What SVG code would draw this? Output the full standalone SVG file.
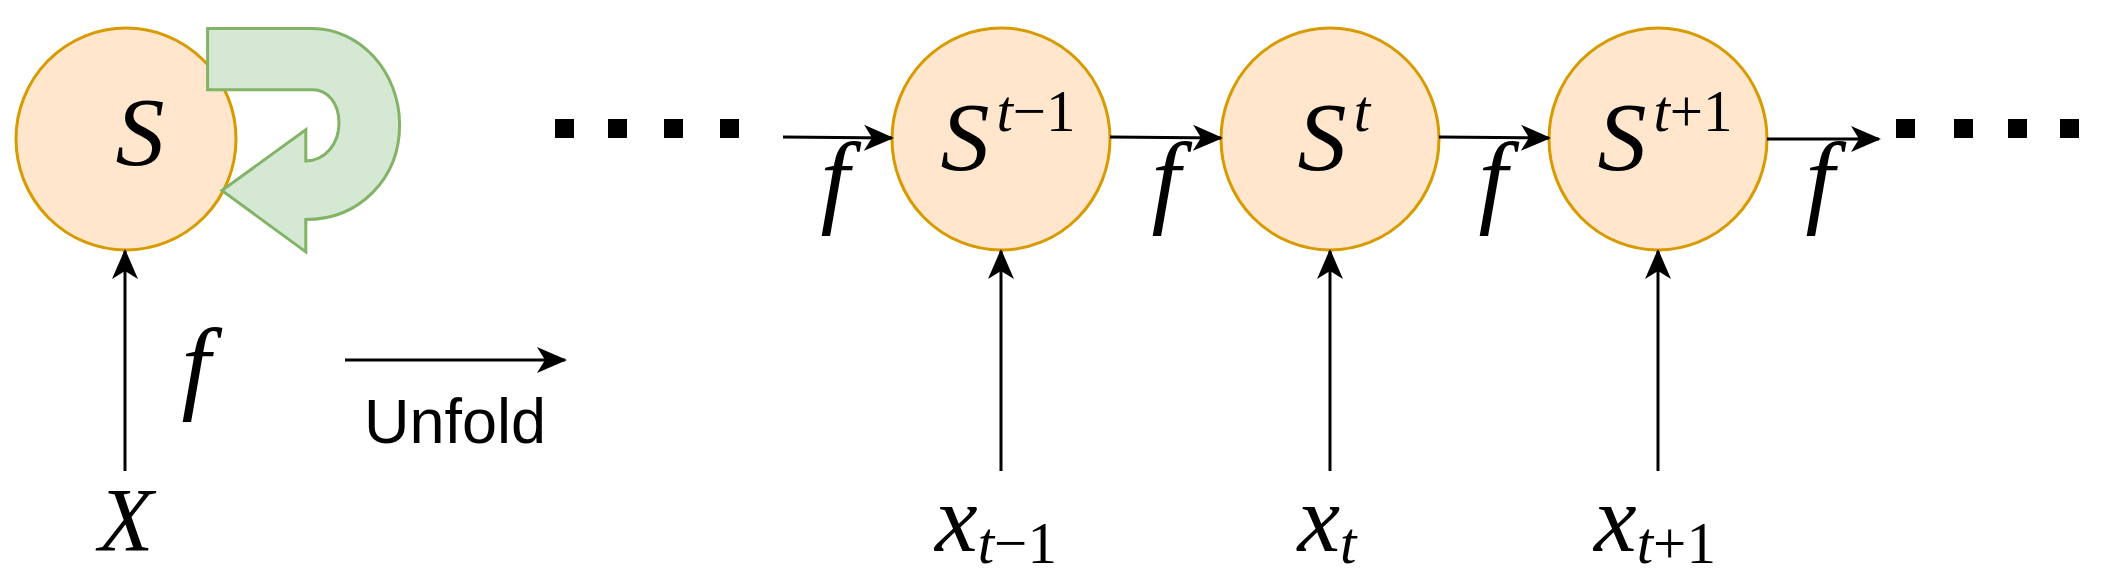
<svg xmlns="http://www.w3.org/2000/svg" width="2105" height="587" viewBox="0 0 2105 587">
<style>
.node{fill:#ffe6cc;stroke:#d79b00;stroke-width:3}
.m{font-family:"Liberation Serif","DejaVu Serif",serif;font-style:italic;fill:#000}
.e{stroke:#000;stroke-width:3;fill:none;marker-end:url(#ah)}
.dot{fill:#000}
</style>
<defs>
<marker id="ah" viewBox="0 0 30 26" refX="28" refY="13" markerWidth="30" markerHeight="26" markerUnits="userSpaceOnUse" orient="auto">
<path d="M0,0 L30,13 L0,26 L8,13 Z" fill="#000"/>
</marker>
</defs>
<g id="node-S"><ellipse class="node" cx="126" cy="139" rx="110" ry="111"/><text class="m" x="140" y="165" font-size="98" text-anchor="middle">S</text></g>
<g id="loop"><path d="M207.6,28.4 L312.5,28.4 C360,28.4 399.6,72 399.6,124.7 C399.6,178 360,219.6 305.8,219.6 L305.8,251.9 L221.9,190.5 L305.8,129.7 L305.8,160.9 C325,160.9 339,144 339,123 C339,103.5 328,89.7 312.5,89.7 L207.6,89.7 Z" fill="#d5e8d4" stroke="#82b366" stroke-width="3"/></g>
<g id="node-S1"><ellipse class="node" cx="1001" cy="139" rx="109" ry="111"/><text class="m" x="965" y="170" font-size="98" text-anchor="middle">S</text><text class="m" x="1036" y="131" font-size="59" text-anchor="middle">t<tspan font-style="normal">−1</tspan></text></g>
<g id="node-S2"><ellipse class="node" cx="1330" cy="139" rx="109" ry="111"/><text class="m" x="1322" y="170" font-size="98" text-anchor="middle">S</text><text class="m" x="1362" y="131" font-size="59" text-anchor="middle">t</text></g>
<g id="node-S3"><ellipse class="node" cx="1658" cy="139" rx="109" ry="111"/><text class="m" x="1622" y="170" font-size="98" text-anchor="middle">S</text><text class="m" x="1693" y="131" font-size="59" text-anchor="middle">t<tspan font-style="normal">+1</tspan></text></g>
<g id="dots" class="dot">
<rect x="555" y="119" width="19" height="19"/><rect x="608" y="119" width="19" height="19"/><rect x="664" y="119" width="19" height="19"/><rect x="720" y="119" width="19" height="19"/>
<rect x="1896" y="119" width="19" height="19"/><rect x="1954" y="119" width="19" height="19"/><rect x="2008" y="119" width="19" height="19"/><rect x="2060" y="119" width="19" height="19"/>
</g>
<g id="connectors">
<line class="e" x1="125" y1="471" x2="125" y2="251"/>
<line class="e" x1="1001" y1="471" x2="1001" y2="251"/>
<line class="e" x1="1330" y1="471" x2="1330" y2="251"/>
<line class="e" x1="1658" y1="471" x2="1658" y2="251"/>
<line class="e" x1="783" y1="137" x2="892" y2="138"/>
<line class="e" x1="1110" y1="137" x2="1221" y2="138"/>
<line class="e" x1="1439" y1="137" x2="1549" y2="138"/>
<line class="e" x1="1767" y1="139" x2="1879" y2="139"/>
<line class="e" x1="345" y1="360" x2="565" y2="360"/>
</g>
<g id="labels">
<text class="m" x="196" y="400" font-size="104" text-anchor="middle">f</text>
<text class="m" x="835" y="214" font-size="104" text-anchor="middle">f</text>
<text class="m" x="1166" y="214" font-size="104" text-anchor="middle">f</text>
<text class="m" x="1493" y="214" font-size="104" text-anchor="middle">f</text>
<text class="m" x="1820" y="214" font-size="104" text-anchor="middle">f</text>
<text class="m" x="126" y="551" font-size="90" text-anchor="middle">X</text>
<text x="455" y="443" font-family="Liberation Sans, Arial, sans-serif" font-size="63" text-anchor="middle">Unfold</text>
<text class="m" x="996" y="551" font-size="96" text-anchor="middle">x<tspan font-size="59" dy="12">t</tspan><tspan font-size="59" font-style="normal">−1</tspan></text>
<text class="m" x="1327" y="551" font-size="96" text-anchor="middle">x<tspan font-size="59" dy="12">t</tspan></text>
<text class="m" x="1655" y="551" font-size="96" text-anchor="middle">x<tspan font-size="59" dy="12">t</tspan><tspan font-size="59" font-style="normal">+1</tspan></text>
</g>
</svg>
